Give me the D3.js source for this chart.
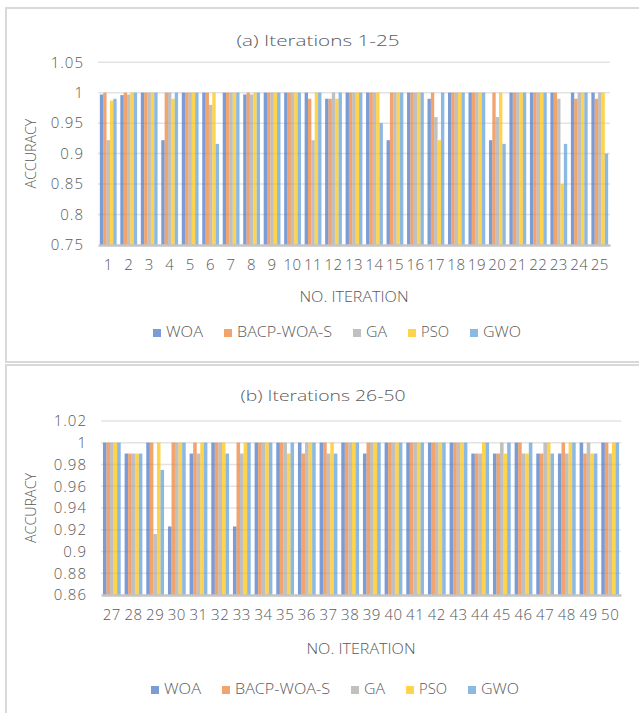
<!DOCTYPE html>
<html>
<head>
<meta charset="utf-8">
<script src="https://cdn.jsdelivr.net/npm/d3@7"></script>
<style>
  html, body { margin: 0; padding: 0; background: #fff; }
  svg { display: block; }
  text { font-family: "Open Sans", "Noto Sans", sans-serif; fill: #595959; font-weight: 300; }
</style>
</head>
<body>
<svg id="chart" width="639" height="713"></svg>
<script>
// ---- data -------------------------------------------------------------
const seriesNames = ["WOA", "BACP-WOA-S", "GA", "PSO", "GWO"];
const seriesColors = ["#4472C4", "#ED7D31", "#A5A5A5", "#FFC000", "#5B9BD5"];

// (a) iterations 1-25
const iterA = ["1","2","3","4","5","6","7","8","9","10","11","12","13",
               "14","15","16","17","18","19","20","21","22","23","24","25"];
const woaA  = [0.997,0.996,1,0.922,1,1,1,0.997,1,1,1,0.99,1,1,0.922,1,0.99,1,1,0.922,1,1,1,1,1];
const bacpA = [1,1,1,1,1,1,1,1,1,1,0.99,0.99,1,1,1,1,1,1,1,1,1,1,1,0.99,0.99];
const gaA   = [0.922,0.997,1,1,1,0.98,1,0.997,1,1,0.922,1,1,1,1,1,0.96,1,1,0.96,1,1,0.99,1,1];
const psoA  = [0.987,1,1,0.99,1,1,1,1,1,1,1,0.99,1,1,1,1,0.922,1,1,1,1,1,0.85,1,1];
const gwoA  = [0.99,1,1,1,1,0.916,1,1,1,1,1,1,1,0.95,1,1,1,1,1,0.916,1,1,0.916,1,0.9];
const ticksA = [0.75,0.8,0.85,0.9,0.95,1,1.05];
const tickLabelsA = ["0.75","0.8","0.85","0.9","0.95","1","1.05"];

// (b) iterations 26-50
const iterB = ["27","28","29","30","31","32","33","34","35","36","37","38",
               "39","40","41","42","43","44","45","46","47","48","49","50"];
const woaB  = [1,0.99,1,0.923,0.99,1,0.923,1,1,1,1,1,0.99,1,1,1,1,0.99,0.99,1,0.99,0.99,1,1];
const bacpB = [1,0.99,1,1,1,1,1,1,1,0.99,1,1,1,1,1,1,1,0.99,0.99,1,0.99,1,0.99,1];
const gaB   = [1,0.99,0.916,1,0.99,1,0.99,1,1,1,0.99,1,1,1,1,1,1,0.99,1,0.99,1,0.99,1,0.99];
const psoB  = [1,0.99,1,1,1,1,1,1,0.99,1,1,1,1,1,1,1,1,1,0.99,0.99,1,1,0.99,1];
const gwoB  = [1,0.99,0.975,1,1,0.99,1,1,1,1,0.99,1,1,1,1,1,1,1,1,1,0.99,1,0.99,1];
const ticksB = [0.86,0.88,0.9,0.92,0.94,0.96,0.98,1,1.02];
const tickLabelsB = ["0.86","0.88","0.9","0.92","0.94","0.96","0.98","1","1.02"];

// ---- drawing ----------------------------------------------------------
const svg = d3.select("#chart");

function fitText(sel, width) {
  sel.attr("textLength", width).attr("lengthAdjust", "spacingAndGlyphs");
}

function drawPanel(cfg) {
  const g = svg.append("g");

  // chart-area frame
  g.append("rect")
    .attr("x", 6).attr("y", cfg.boxTop)
    .attr("width", 650).attr("height", cfg.boxHeight)
    .attr("fill", "#fff").attr("stroke", "#d9d9d9").attr("stroke-width", 2);

  const x0 = d3.scaleBand().domain(cfg.cats)
    .range([cfg.left, cfg.right]).paddingInner(0.18).paddingOuter(0.09);
  const x1 = d3.scaleBand().domain(seriesNames).range([0, x0.bandwidth()]).padding(0);
  const y = d3.scaleLinear().domain(cfg.domain).range([cfg.bottom, cfg.top]);

  // horizontal gridlines
  g.append("g").selectAll("line")
    .data(cfg.ticks.slice(1))
    .join("line")
    .attr("x1", cfg.left).attr("x2", cfg.right)
    .attr("y1", d => y(d)).attr("y2", d => y(d))
    .attr("stroke", "#e3e3e3").attr("stroke-width", 1.5);

  // y tick labels
  const yAxis = d3.axisLeft(y).tickValues(cfg.ticks)
    .tickFormat((d, i) => cfg.tickLabels[i]).tickSize(0).tickPadding(14);
  const ya = g.append("g").attr("transform", `translate(${cfg.left},0)`).call(yAxis);
  ya.select(".domain").remove();
  ya.selectAll("text")
    .attr("font-size", 15).attr("fill", "#595959")
    .style("letter-spacing", "1px")
    .attr("font-family", "Open Sans");

  // bars
  const rows = cfg.cats.map((c, i) => ({ cat: c, vals: cfg.series.map(s => s[i]) }));
  g.append("g").selectAll("g")
    .data(rows)
    .join("g")
    .attr("transform", d => `translate(${x0(d.cat)},0)`)
    .selectAll("rect")
    .data(d => d.vals.map((v, k) => ({ name: seriesNames[k], v, k })))
    .join("rect")
    .attr("x", d => x1(d.name))
    .attr("width", x1.bandwidth())
    .attr("y", d => y(d.v))
    .attr("height", d => y(cfg.domain[0]) - y(d.v))
    .attr("fill", d => seriesColors[d.k])
    .attr("fill-opacity", 0.7);

  // x axis
  const xAxis = d3.axisBottom(x0).tickSize(0).tickPadding(14);
  const xa = g.append("g").attr("transform", `translate(0,${cfg.bottom})`).call(xAxis);
  xa.select(".domain").attr("stroke", "#c4c4c4").attr("stroke-width", 2.5);
  xa.selectAll("text")
    .attr("font-size", 15).attr("fill", "#595959")
    .style("letter-spacing", "0.5px")
    .attr("font-family", "Open Sans");

  // titles
  const t = g.append("text").attr("x", cfg.titleX).attr("y", cfg.titleY)
    .attr("text-anchor", "middle").attr("dominant-baseline", "middle")
    .attr("font-size", 15).text(cfg.title);
  fitText(t, cfg.titleW);

  const xt = g.append("text").attr("x", (cfg.left + cfg.right) / 2).attr("y", cfg.xTitleY)
    .attr("text-anchor", "middle").attr("dominant-baseline", "middle")
    .attr("font-size", 14).text("NO. ITERATION");
  fitText(xt, 109);

  const yt = g.append("text")
    .attr("transform", `translate(32,${(cfg.top + cfg.bottom) / 2}) rotate(-90)`)
    .attr("text-anchor", "middle").attr("dominant-baseline", "middle")
    .attr("font-size", 14).text("ACCURACY");
  fitText(yt, 70);

  // legend
  const legendWidths = [37, 95, 21, 28, 38];
  const lg = g.append("g");
  let lx = cfg.legendX;
  seriesNames.forEach((name, k) => {
    lg.append("rect").attr("x", lx).attr("y", cfg.legendY - 4)
      .attr("width", 8).attr("height", 8)
      .attr("fill", seriesColors[k]).attr("fill-opacity", 0.7);
    const lt = lg.append("text").attr("x", lx + 13).attr("y", cfg.legendY)
      .attr("dominant-baseline", "middle").attr("font-size", 14).text(name);
    fitText(lt, legendWidths[k]);
    lx += 13 + legendWidths[k] + 21;
  });
}

drawPanel({
  boxTop: 8, boxHeight: 354,
  cats: iterA, series: [woaA, bacpA, gaA, psoA, gwoA],
  domain: [0.75, 1.05], ticks: ticksA, tickLabels: tickLabelsA,
  left: 98, right: 610, top: 62.2, bottom: 245,
  title: "(a) Iterations 1-25", titleX: 318, titleY: 42, titleW: 163,
  xTitleY: 298, legendX: 153, legendY: 333
});

drawPanel({
  boxTop: 365, boxHeight: 360,
  cats: iterB, series: [woaB, bacpB, gaB, psoB, gwoB],
  domain: [0.86, 1.02], ticks: ticksB, tickLabels: tickLabelsB,
  left: 101, right: 621, top: 420.9, bottom: 595,
  title: "(b) Iterations 26-50", titleX: 323, titleY: 397, titleW: 165,
  xTitleY: 650, legendX: 151, legendY: 690
});
</script>
</body>
</html>
